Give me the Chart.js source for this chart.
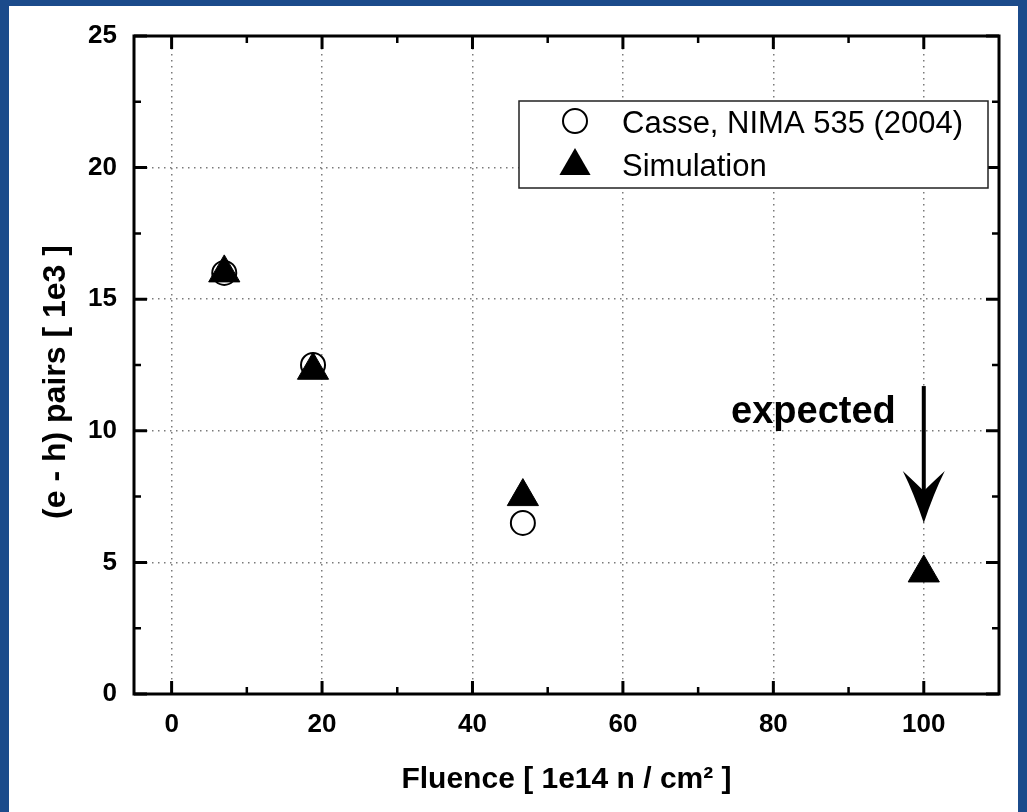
<!DOCTYPE html>
<html>
<head>
<meta charset="utf-8">
<script src="https://cdn.jsdelivr.net/npm/chart.js@4.4.0/dist/chart.umd.min.js"></script>
<style>
    html, body { margin: 0; padding: 0; background: #1b4b8b; }
    canvas { display: block; }
</style>
</head>
<body>
<canvas id="fluenceChart" width="1027" height="812"></canvas>
<script>
// Data
const casseFluence = [7, 18.8, 46.7];
const cassePairs = [16.0, 12.5, 6.5];
const simFluence = [7, 18.8, 46.7, 100];
const simPairs = [16.0, 12.3, 7.5, 4.6];

const xTicks = [0, 10, 20, 30, 40, 50, 60, 70, 80, 90, 100];
const yTicks = [0, 2.5, 5, 7.5, 10, 12.5, 15, 17.5, 20, 22.5, 25];

// "expected" arrow, in data units
const arrowFrom = [100, 11.7];
const arrowTo = [100, 6.5];
const expectedLabel = { text: "expected", x: 100, y: 10.3 };

const yTitle = "(e - h) pairs [ 1e3 ]";
const FONT = 'Arial, "Liberation Sans", Helvetica, sans-serif';

const casseData = casseFluence.map((x, i) => ({ x: x, y: cassePairs[i] }));
const simData = simFluence.map((x, i) => ({ x: x, y: simPairs[i] }));

// slide background + white panel
const slideBackground = {
    id: "slideBackground",
    beforeDraw(chart) {
        const c = chart.ctx;
        c.save();
        c.fillStyle = "#1b4b8b";
        c.fillRect(0, 0, chart.width, chart.height);
        c.fillStyle = "#ffffff";
        c.fillRect(9, 6, chart.width - 18, chart.height - 6);
        c.restore();
    }
};

// frame with inward ticks on all four sides, arrow, label, y title and legend
const frameAndExtras = {
    id: "frameAndExtras",
    afterDraw(chart) {
        const c = chart.ctx;
        const a = chart.chartArea;
        const xs = chart.scales.x;
        const ys = chart.scales.y;
        c.save();
        c.strokeStyle = "#000";
        c.lineCap = "butt";

        // ticks
        xTicks.forEach((v) => {
            const px = xs.getPixelForValue(v);
            const len = v % 20 === 0 ? 13 : 7;
            c.lineWidth = v % 20 === 0 ? 3 : 2.5;
            c.beginPath();
            c.moveTo(px, a.bottom); c.lineTo(px, a.bottom - len);
            c.moveTo(px, a.top); c.lineTo(px, a.top + len);
            c.stroke();
        });
        yTicks.forEach((v) => {
            const py = ys.getPixelForValue(v);
            const len = v % 5 === 0 ? 13 : 7;
            c.lineWidth = v % 5 === 0 ? 3 : 2.5;
            c.beginPath();
            c.moveTo(a.left, py); c.lineTo(a.left + len, py);
            c.moveTo(a.right, py); c.lineTo(a.right - len, py);
            c.stroke();
        });

        // frame
        c.lineWidth = 3;
        c.strokeRect(a.left, a.top, a.right - a.left, a.bottom - a.top);

        // arrow
        const ax = xs.getPixelForValue(arrowFrom[0]);
        const ay0 = ys.getPixelForValue(arrowFrom[1]);
        const tipY = ys.getPixelForValue(arrowTo[1]);
        c.lineWidth = 4;
        c.beginPath();
        c.moveTo(ax, ay0);
        c.lineTo(ax, tipY - 30);
        c.stroke();
        c.fillStyle = "#000";
        c.beginPath();
        c.moveTo(ax, tipY);
        c.quadraticCurveTo(ax - 10, tipY - 30, ax - 21, tipY - 52);
        c.quadraticCurveTo(ax - 8, tipY - 40, ax, tipY - 32);
        c.quadraticCurveTo(ax + 8, tipY - 40, ax + 21, tipY - 52);
        c.quadraticCurveTo(ax + 10, tipY - 30, ax, tipY);
        c.closePath();
        c.fill();

        // "expected"
        c.font = "bold 38px " + FONT;
        c.textAlign = "right";
        c.textBaseline = "alphabetic";
        c.fillText(expectedLabel.text, xs.getPixelForValue(expectedLabel.x) - 28, ys.getPixelForValue(expectedLabel.y));

        // y axis title
        c.save();
        c.translate(56, 382);
        c.rotate(-Math.PI / 2);
        c.font = "bold 32px " + FONT;
        c.textAlign = "center";
        c.textBaseline = "middle";
        c.fillText(yTitle, 0, 0);
        c.restore();

        // legend box
        const lx = 519, ly = 101, lw = 469, lh = 87;
        c.lineWidth = 1.5;
        c.strokeStyle = "#222";
        c.fillStyle = "#fff";
        c.fillRect(lx, ly, lw, lh);
        c.strokeRect(lx, ly, lw, lh);

        const sets = chart.data.datasets;
        const mx = 575;
        // circle marker
        c.strokeStyle = "#000";
        c.lineWidth = 2;
        c.beginPath();
        c.arc(mx, 121, 12, 0, Math.PI * 2);
        c.stroke();
        // triangle marker
        const r = 18, ty = 166;
        c.fillStyle = "#000";
        c.beginPath();
        c.moveTo(mx, ty - r);
        c.lineTo(mx + r * Math.sin(2 * Math.PI / 3), ty + r / 2);
        c.lineTo(mx - r * Math.sin(2 * Math.PI / 3), ty + r / 2);
        c.closePath();
        c.fill();

        c.font = "31px " + FONT;
        c.textAlign = "left";
        c.fillStyle = "#000";
        c.fillText(sets[1].label, 622, 133);
        c.fillText(sets[0].label, 622, 176);
        c.restore();
    }
};

const ctx = document.getElementById("fluenceChart").getContext("2d");

new Chart(ctx, {
    type: "scatter",
    data: {
        datasets: [
            {
                label: "Simulation",
                data: simData,
                pointStyle: "triangle",
                pointRadius: 18,
                pointHoverRadius: 18,
                backgroundColor: "#000",
                borderColor: "#000",
                borderWidth: 1,
                order: 0
            },
            {
                label: "Casse, NIMA 535 (2004)",
                data: casseData,
                pointStyle: "circle",
                pointRadius: 12,
                pointHoverRadius: 12,
                backgroundColor: "#fff",
                borderColor: "#000",
                borderWidth: 2,
                order: 1
            }
        ]
    },
    options: {
        responsive: false,
        animation: false,
        events: [],
        layout: { padding: { top: 36, right: 28, left: 0, bottom: 0 } },
        plugins: {
            legend: { display: false },
            tooltip: { enabled: false }
        },
        scales: {
            x: {
                type: "linear",
                min: -5,
                max: 110,
                afterBuildTicks: (scale) => { scale.ticks = xTicks.map((v) => ({ value: v })); },
                afterFit: (scale) => { scale.height = 118; },
                grid: {
                    drawTicks: false,
                    color: "#7a7a7a",
                    lineWidth: (c) => (c.tick && c.tick.value % 20 === 0 ? 1.5 : 0)
                },
                border: { display: false, dash: [1.5, 4.5] },
                ticks: {
                    autoSkip: false,
                    maxRotation: 0,
                    padding: 15,
                    color: "#000",
                    font: { family: FONT, size: 26, weight: "bold" },
                    callback: (v) => (v % 20 === 0 ? v : "")
                },
                title: {
                    display: true,
                    text: "Fluence [ 1e14 n / cm\u00b2 ]",
                    color: "#000",
                    font: { family: FONT, size: 30, weight: "bold" },
                    padding: { top: 0, bottom: 14 }
                }
            },
            y: {
                type: "linear",
                min: 0,
                max: 25,
                afterBuildTicks: (scale) => { scale.ticks = yTicks.map((v) => ({ value: v })); },
                afterFit: (scale) => { scale.width = 134; },
                grid: {
                    drawTicks: false,
                    color: "#7a7a7a",
                    lineWidth: (c) => (c.tick && c.tick.value % 5 === 0 && c.tick.value > 0 && c.tick.value < 25 ? 1.5 : 0)
                },
                border: { display: false, dash: [1.5, 4.5] },
                ticks: {
                    autoSkip: false,
                    padding: 17,
                    color: "#000",
                    font: { family: FONT, size: 26, weight: "bold" },
                    callback: (v) => (v % 5 === 0 ? v : "")
                },
                title: { display: false }
            }
        }
    },
    plugins: [slideBackground, frameAndExtras]
});
</script>
</body>
</html>
